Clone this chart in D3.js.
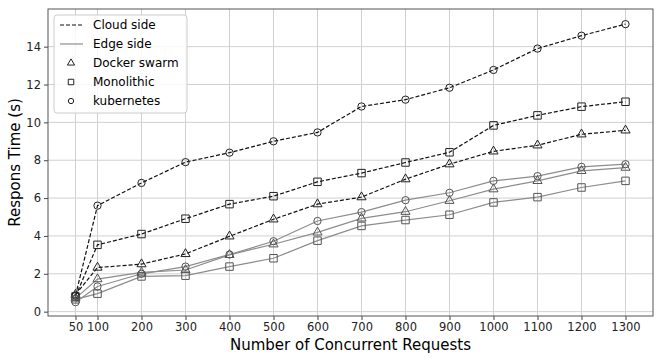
<!DOCTYPE html>
<html>
<head>
<meta charset="utf-8">
<script src="https://cdn.jsdelivr.net/npm/d3@7"></script>
<style>
  body { margin: 0; background: #fff; }
  svg text { font-family: "DejaVu Sans", sans-serif; }
  .grid line { stroke: #d0d0d0; stroke-width: 1; }
  .axis path { display: none; }
  .axis line { stroke: #444; }
  .axis text { font-size: 11.5px; fill: #222; }
</style>
</head>
<body>
<svg id="chart" width="664" height="358"></svg>
<script>
var requests = [50, 100, 200, 300, 400, 500, 600, 700, 800, 900, 1000, 1100, 1200, 1300];
var yTicks = [0, 2, 4, 6, 8, 10, 12, 14];

// cloud side
var cloudSwarm = [0.9, 2.33, 2.51, 3.05, 3.98, 4.88, 5.68, 6.05, 7.0, 7.79, 8.47, 8.79, 9.37, 9.58];
var cloudMono = [0.8, 3.53, 4.1, 4.91, 5.68, 6.1, 6.86, 7.32, 7.88, 8.42, 9.84, 10.37, 10.83, 11.09];
var cloudKube = [0.85, 5.6, 6.8, 7.9, 8.4, 9.0, 9.47, 10.84, 11.2, 11.83, 12.77, 13.9, 14.58, 15.19];
// edge side
var edgeSwarm = [0.7, 1.72, 2.07, 2.2, 3.0, 3.56, 4.19, 4.93, 5.28, 5.86, 6.47, 6.91, 7.44, 7.61];
var edgeMono = [0.65, 0.95, 1.86, 1.9, 2.38, 2.82, 3.75, 4.53, 4.84, 5.12, 5.77, 6.05, 6.56, 6.91];
var edgeKube = [0.5, 1.33, 2.0, 2.38, 3.02, 3.72, 4.79, 5.26, 5.89, 6.28, 6.91, 7.16, 7.65, 7.79];

var series = [
    { values: cloudSwarm, side: "cloud", marker: "triangle" },
    { values: cloudMono, side: "cloud", marker: "square" },
    { values: cloudKube, side: "cloud", marker: "circle" },
    { values: edgeSwarm, side: "edge", marker: "triangle" },
    { values: edgeMono, side: "edge", marker: "square" },
    { values: edgeKube, side: "edge", marker: "circle" }
];

var svg = d3.select("#chart");
var pLeft = 48, pRight = 653, pTop = 9, pBottom = 316;

var x = d3.scaleLinear().domain([-12.5, 1362.5]).range([pLeft, pRight]);
var y = d3.scaleLinear().domain([-0.23, 15.99]).range([pBottom, pTop]);

var sideStyle = {
    cloud: { stroke: "#111", dash: "4,2", marker: "#222" },
    edge: { stroke: "#8c8c8c", dash: null, marker: "#555" }
};

var symbols = {
    triangle: d3.symbol().type(d3.symbolTriangle).size(36),
    square: d3.symbol().type(d3.symbolSquare).size(56),
    circle: d3.symbol().type(d3.symbolCircle).size(42)
};

// grid
svg.append("g").attr("class", "grid")
    .selectAll("line").data(requests).enter().append("line")
    .attr("x1", d => x(d)).attr("x2", d => x(d))
    .attr("y1", pTop).attr("y2", pBottom);
svg.append("g").attr("class", "grid")
    .selectAll("line").data(yTicks).enter().append("line")
    .attr("x1", pLeft).attr("x2", pRight)
    .attr("y1", d => y(d)).attr("y2", d => y(d));

// axes
svg.append("g")
    .attr("class", "axis")
    .attr("transform", "translate(0," + pBottom + ")")
    .call(d3.axisBottom(x).tickValues(requests).tickSize(4).tickPadding(3).tickFormat(d3.format("d")));

svg.append("g")
    .attr("class", "axis")
    .attr("transform", "translate(" + pLeft + ",0)")
    .call(d3.axisLeft(y).tickValues(yTicks).tickSize(4).tickPadding(3).tickFormat(d3.format("d")));

var line = d3.line()
    .x((d, i) => x(requests[i]))
    .y(d => y(d));

// lines first, then markers
series.forEach(function (s) {
    var st = sideStyle[s.side];
    svg.append("path")
        .datum(s.values)
        .attr("d", line)
        .attr("fill", "none")
        .attr("stroke", st.stroke)
        .attr("stroke-width", 1.2)
        .attr("stroke-dasharray", st.dash);
});

series.forEach(function (s) {
    var st = sideStyle[s.side];
    svg.append("g").selectAll("path")
        .data(s.values).enter().append("path")
        .attr("transform", (d, i) => "translate(" + x(requests[i]) + "," + y(d) + ")")
        .attr("d", symbols[s.marker])
        .attr("fill", "none")
        .attr("stroke", st.marker)
        .attr("stroke-width", 1);
});

// frame
svg.append("rect")
    .attr("x", pLeft).attr("y", pTop)
    .attr("width", pRight - pLeft).attr("height", pBottom - pTop)
    .attr("fill", "none").attr("stroke", "#555").attr("stroke-width", 1);

// axis labels
svg.append("text")
    .attr("x", (pLeft + pRight) / 2).attr("y", 350)
    .attr("text-anchor", "middle")
    .style("font-size", "15px")
    .text("Number of Concurrent Requests");

svg.append("text")
    .attr("transform", "translate(20," + ((pTop + pBottom) / 2) + ") rotate(-90)")
    .attr("text-anchor", "middle")
    .style("font-size", "15px")
    .text("Respons Time (s)");

// legend
var legendItems = [
    { label: "Cloud side", kind: "line", side: "cloud" },
    { label: "Edge side", kind: "line", side: "edge" },
    { label: "Docker swarm", kind: "marker", marker: "triangle" },
    { label: "Monolithic", kind: "marker", marker: "square" },
    { label: "kubernetes", kind: "marker", marker: "circle" }
];

var lg = svg.append("g").attr("transform", "translate(54,15)");
lg.append("rect")
    .attr("width", 133).attr("height", 98).attr("rx", 3)
    .attr("fill", "#fff").attr("fill-opacity", 0.85)
    .attr("stroke", "#ccc");

var items = lg.selectAll(".item").data(legendItems).enter().append("g")
    .attr("transform", (d, i) => "translate(0," + (10 + i * 19) + ")");

items.filter(d => d.kind === "line").append("line")
    .attr("x1", 6).attr("x2", 29)
    .attr("stroke", d => sideStyle[d.side].stroke)
    .attr("stroke-width", 1.2)
    .attr("stroke-dasharray", d => sideStyle[d.side].dash);

items.filter(d => d.kind === "marker").append("path")
    .attr("transform", "translate(17,0)")
    .attr("d", d => d3.symbol().type(d.marker === "triangle" ? d3.symbolTriangle : d.marker === "square" ? d3.symbolSquare : d3.symbolCircle)
        .size(d.marker === "square" ? 30 : 22)())
    .attr("fill", "none").attr("stroke", "#222");

items.append("text")
    .attr("x", 39).attr("dy", "0.35em")
    .style("font-size", "12px")
    .text(d => d.label);
</script>
</body>
</html>
